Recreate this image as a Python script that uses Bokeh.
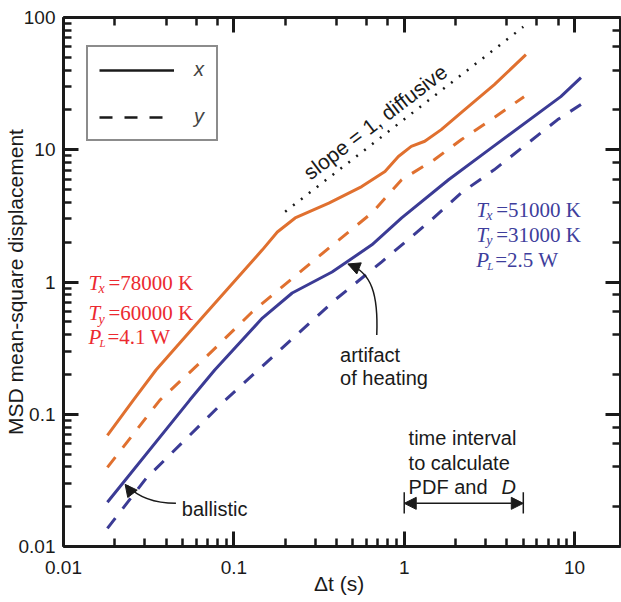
from bokeh.plotting import figure
from bokeh.models import (Range1d, LogAxis, Label, Legend, LegendItem, Arrow,
                          NormalHead, NumeralTickFormatter)
from bokeh.core.properties import value
from bokeh.embed import file_html
from bokeh.resources import INLINE

# ---------------- data ----------------
orange_x_t = [0.0181, 0.0257, 0.0349, 0.0656, 0.147, 0.180, 0.229, 0.361, 0.563,
              0.771, 0.924, 1.10, 1.32, 1.65, 2.16, 3.38, 5.18]
orange_x_v = [0.0693, 0.128, 0.216, 0.543, 1.75, 2.39, 3.05, 3.95, 5.27,
              6.85, 8.90, 10.6, 11.6, 14.2, 19.1, 31.1, 52.4]

orange_y_t = [0.0181, 0.0368, 0.0656, 0.128, 0.288, 0.646, 0.966, 1.50, 2.16, 3.37, 5.05]
orange_y_v = [0.0397, 0.128, 0.256, 0.593, 1.42, 3.33, 5.93, 8.4, 11.9, 17.5, 25.2]

blue_x_t = [0.0181, 0.0551, 0.0772, 0.147, 0.220, 0.377, 0.646, 0.966, 1.82, 3.37, 8.30, 10.9]
blue_x_v = [0.0216, 0.128, 0.216, 0.534, 0.826, 1.19, 1.91, 3.05, 5.93, 10.7, 25.2, 35.1]

blue_y_t = [0.0181, 0.0305, 0.0891, 0.262, 0.392, 0.738, 1.445, 2.16, 3.37, 7.96, 10.9]
blue_y_v = [0.0137, 0.0327, 0.128, 0.456, 0.731, 1.42, 2.95, 4.72, 7.05, 16.9, 22.0]

slope_t = [0.2, 5.0]
slope_v = [3.4, 85.0]

interval_t = [1.0, 5.0]

x_ticks = [0.01, 0.1, 1, 10]
y_ticks = [0.01, 0.1, 1, 10, 100]

ORANGE = "#E0702F"
BLUE = "#3B3B95"
RED_TXT = "#EC2A30"
BLUE_TXT = "#3E3E9C"
SANS = "Liberation Sans"
SERIF = "Liberation Serif"

p = figure(width=621, height=602, x_axis_type="log", y_axis_type="log",
           x_range=Range1d(0.01, 18.6), y_range=Range1d(0.01, 100),
           output_backend="svg", toolbar_location=None,
           min_border_left=60, min_border_right=1, min_border_top=17,
           min_border_bottom=56)
p.grid.visible = False
p.outline_line_color = None
p.background_fill_color = "white"
p.border_fill_color = "white"

def style_axis(ax, labels=True):
    ax.axis_line_width = 3
    ax.axis_line_color = "#1a1a1a"
    ax.major_tick_in = 15
    ax.major_tick_out = 0
    ax.minor_tick_in = 8
    ax.minor_tick_out = 0
    ax.major_tick_line_width = 3
    ax.minor_tick_line_width = 2.5
    ax.major_tick_line_color = "#1a1a1a"
    ax.minor_tick_line_color = "#1a1a1a"
    if labels:
        ax.major_label_text_font = SANS
        ax.major_label_text_font_size = "19px"
        ax.major_label_text_color = "#1a1a1a"
        ax.formatter = NumeralTickFormatter(format="0.[00]")
        ax.axis_label_text_font = SANS
        ax.axis_label_text_font_size = "21px"
        ax.axis_label_text_font_style = "normal"
        ax.axis_label_text_color = "#1a1a1a"
    else:
        ax.major_label_text_font_size = "1px"
        ax.major_label_text_color = None
        ax.major_label_standoff = 0

style_axis(p.xaxis[0])
style_axis(p.yaxis[0])
p.xaxis[0].major_label_standoff = 14
p.xaxis[0].axis_label = "Δt  (s)"
p.xaxis[0].axis_label_standoff = -5
p.yaxis[0].major_label_standoff = 8
p.yaxis[0].axis_label = "MSD mean-square displacement"
p.yaxis[0].axis_label_standoff = -11

top_ax = LogAxis()
right_ax = LogAxis()
style_axis(top_ax, labels=False)
style_axis(right_ax, labels=False)
p.add_layout(top_ax, "above")
p.add_layout(right_ax, "right")

# ---------------- curves ----------------
p.line(orange_x_t, orange_x_v, line_color=ORANGE, line_width=3)
p.line(orange_y_t, orange_y_v, line_color=ORANGE, line_width=3, line_dash="13 12")
p.line(blue_x_t, blue_x_v, line_color=BLUE, line_width=3)
p.line(blue_y_t, blue_y_v, line_color=BLUE, line_width=3, line_dash="13 12")
p.line(slope_t, slope_v, line_color="#1a1a1a", line_width=2.5, line_dash="2 8")

# ---------------- legend ----------------
r1 = p.line([1e-5, 1e-5], [1e-5, 1e-5], line_color="#1a1a1a", line_width=2.5)
r2 = p.line([1e-5, 1e-5], [1e-5, 1e-5], line_color="#1a1a1a", line_width=2.5, line_dash="13 12")
leg = Legend(items=[LegendItem(label="x", renderers=[r1]),
                    LegendItem(label="y", renderers=[r2])],
             location=(23, 405), glyph_width=75, glyph_height=20,
             label_standoff=20, label_width=11, spacing=24, padding=11, margin=0,
             border_line_color="#1a1a1a", border_line_width=2.5,
             label_text_font=SANS, label_text_font_style="italic",
             label_text_font_size="20px", background_fill_alpha=1)
p.add_layout(leg)

# ---------------- annotations ----------------
def lab(x, y, text, color="#1a1a1a", font=SANS, size="20px", style="normal",
        dx=0, dy=0, angle=0.0, align="left"):
    p.add_layout(Label(x=x, y=y, text=text, text_color=color, text_font=font,
                       text_font_size=size, text_font_style=style, x_offset=dx,
                       y_offset=dy, angle=angle, text_align=align,
                       text_baseline="alphabetic"))

def param_block(x, ys, tx, ty, pl, color):
    lab(x, ys[0], "T", color, SERIF, "21px", "italic")
    lab(x, ys[0], "x", color, SERIF, "14px", "italic", dx=10, dy=-6)
    lab(x, ys[0], "=" + tx + " K", color, SERIF, "21px", dx=20)
    lab(x, ys[1], "T", color, SERIF, "21px", "italic")
    lab(x, ys[1], "y", color, SERIF, "14px", "italic", dx=10, dy=-6)
    lab(x, ys[1], "=" + ty + " K", color, SERIF, "21px", dx=20)
    lab(x, ys[2], "P", color, SERIF, "21px", "italic")
    lab(x, ys[2], "L", color, SERIF, "11px", "italic", dx=11, dy=-6)
    lab(x, ys[2], "=" + pl + " W", color, SERIF, "21px", dx=19)

param_block(0.0140, [0.983, 0.582, 0.383], "78000", "60000", "4.1", RED_TXT)
param_block(2.646, [3.51, 2.27, 1.468], "51000", "31000", "2.5", BLUE_TXT)

lab(0.28, 5.93, "slope = 1, diffusive", size="21px", angle=0.653, dx=-4, dy=5)

lab(0.420, 0.280, "artifact")
lab(0.420, 0.1874, "of heating")
p.bezier(x0=[0.690], y0=[0.397], x1=[0.47], y1=[1.36],
         cx0=[0.705], cy0=[0.80], cx1=[0.645], cy1=[1.19],
         line_color="#1a1a1a", line_width=1.5)
p.add_layout(Arrow(end=NormalHead(size=12, fill_color="#1a1a1a", line_color="#1a1a1a"),
                   x_start=0.535, y_start=1.276, x_end=0.467, y_end=1.369,
                   line_alpha=0))

lab(0.0495, 0.01906, "ballistic")
p.bezier(x0=[0.0457], y0=[0.0212], x1=[0.0236], y1=[0.0290],
         cx0=[0.0335], cy0=[0.0212], cx1=[0.0274], cy1=[0.0235],
         line_color="#1a1a1a", line_width=1.5)
p.add_layout(Arrow(end=NormalHead(size=12, fill_color="#1a1a1a", line_color="#1a1a1a"),
                   x_start=0.0250, y_start=0.0257, x_end=0.0230, y_end=0.0295,
                   line_alpha=0))

lab(1.061, 0.0658, "time interval")
lab(1.061, 0.0425, "to calculate")
lab(1.061, 0.0280, "PDF and ")
lab(1.061, 0.0280, "D", style="italic", dx=93)
p.segment(x0=interval_t, y0=[0.0178, 0.0178], x1=interval_t, y1=[0.0257, 0.0257],
          line_color="#1a1a1a", line_width=1.5)
p.add_layout(Arrow(start=NormalHead(size=12, fill_color="#1a1a1a", line_color="#1a1a1a"),
                   end=NormalHead(size=12, fill_color="#1a1a1a", line_color="#1a1a1a"),
                   x_start=interval_t[0], y_start=0.0212, x_end=interval_t[1], y_end=0.0212,
                   line_color="#1a1a1a", line_width=1.5))

open("out.html", "w").write(file_html(p, INLINE))
